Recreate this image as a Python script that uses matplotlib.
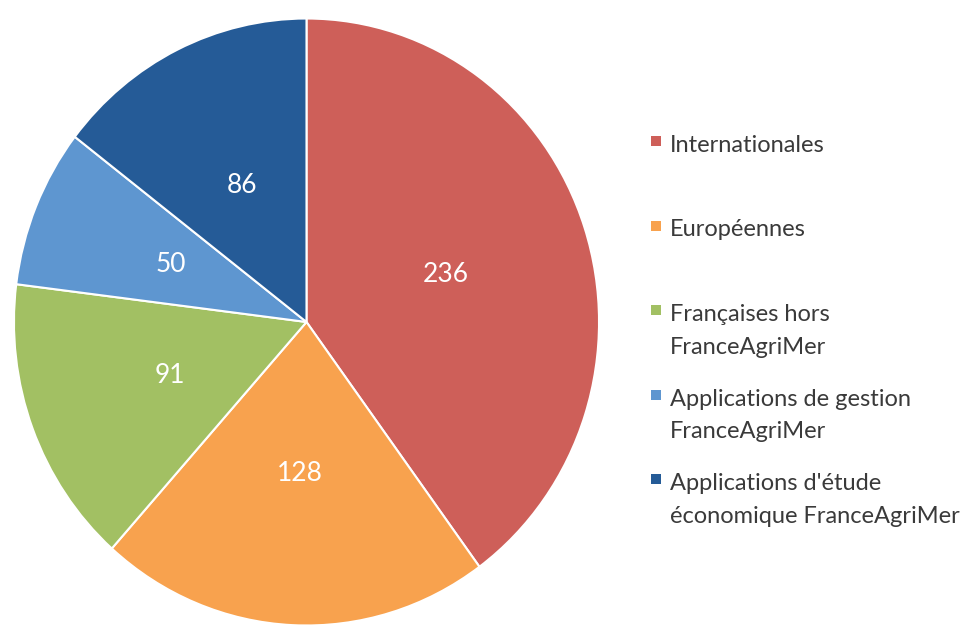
import matplotlib
matplotlib.use("Agg")
import matplotlib.pyplot as plt
from matplotlib.patches import Rectangle

categories = ["Internationales", "Européennes", "Françaises hors\nFranceAgriMer",
              "Applications de gestion\nFranceAgriMer",
              "Applications d'étude\néconomique FranceAgriMer"]
values = [236, 128, 91, 50, 86]
colors = ["#CE5F59", "#F8A24E", "#A2C063", "#5E96D0", "#255B97"]

plt.rcParams['font.family'] = ['Lato', 'DejaVu Sans']

W, H = 976, 632
fig = plt.figure(figsize=(W / 100, H / 100), dpi=100)
cx, cy, rx, ry = 306.5, 322, 294, 305
ax = fig.add_axes([(cx - rx) / W, (H - cy - ry) / H, 2 * rx / W, 2 * ry / H])

wedges, texts = ax.pie(values, colors=colors, startangle=90, counterclock=False,
                       labels=[str(v) for v in values], labeldistance=0.5,
                       wedgeprops=dict(edgecolor="white", linewidth=1.5),
                       textprops=dict(color="white", fontsize=19))
for t in texts:
    t.set_ha("center")
    t.set_va("center")
ax.set_aspect("auto")
ax.set_xlim(-1.005, 1.005)
ax.set_ylim(-1.005, 1.005)
ax.axis("off")

# legend
y0 = 152  # baseline of first line of first entry
step = 84.5
line_h = 33
for i, (lab, col) in enumerate(zip(categories, colors)):
    y = y0 + i * step
    fig.patches.append(Rectangle((651 / W, 1 - (y - 6) / H), 10 / W, 10 / H,
                                 transform=fig.transFigure, facecolor=col,
                                 edgecolor="none"))
    for j, line in enumerate(lab.split("\n")):
        fig.text(670 / W, 1 - (y + j * line_h) / H, line, fontsize=17,
                 color="#3A3A3A", ha="left", va="baseline")

fig.savefig("out.png", dpi=100, facecolor="white")
